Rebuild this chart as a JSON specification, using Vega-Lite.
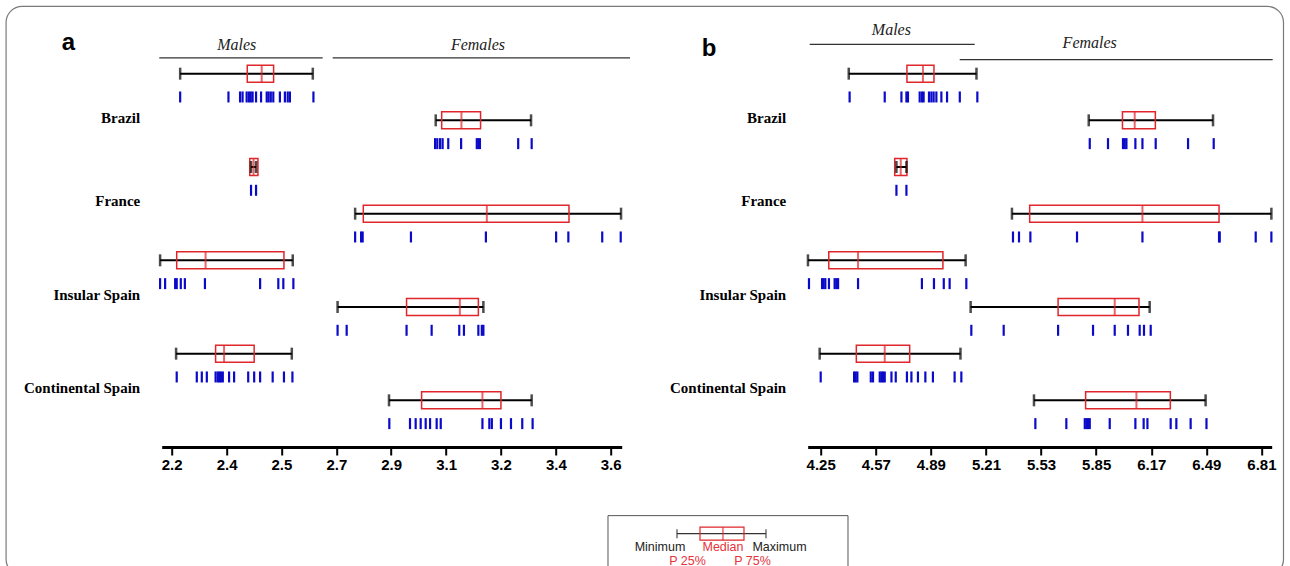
{
  "$schema": "https://vega.github.io/schema/vega-lite/v6.json",
  "padding": {"left": 4.7, "top": 5, "right": 0, "bottom": 0},
  "background": "white",
  "bounds": "flush",
  "spacing": 186,
  "config": {"view": {"stroke": null}, "axis": {"grid": false}},
  "datasets": {
    "boxA": [
      {"grp": "Brazil|Males", "min": 2.227, "q1": 2.441, "median": 2.487, "q3": 2.525, "max": 2.650},
      {"grp": "Brazil|Females", "min": 3.042, "q1": 3.061, "median": 3.124, "q3": 3.185, "max": 3.346},
      {"grp": "France|Males", "min": 2.453, "q1": 2.449, "median": 2.461, "q3": 2.475, "max": 2.469},
      {"grp": "France|Females", "min": 2.785, "q1": 2.811, "median": 3.205, "q3": 3.467, "max": 3.633},
      {"grp": "Insular Spain|Males", "min": 2.163, "q1": 2.216, "median": 2.308, "q3": 2.558, "max": 2.586},
      {"grp": "Insular Spain|Females", "min": 2.729, "q1": 2.949, "median": 3.119, "q3": 3.178, "max": 3.194},
      {"grp": "Continental Spain|Males", "min": 2.214, "q1": 2.340, "median": 2.367, "q3": 2.463, "max": 2.583},
      {"grp": "Continental Spain|Females", "min": 2.893, "q1": 2.997, "median": 3.191, "q3": 3.250, "max": 3.348}
    ],
    "boxB": [
      {"grp": "Brazil|Males", "min": 4.413, "q1": 4.751, "median": 4.844, "q3": 4.908, "max": 5.155},
      {"grp": "Brazil|Females", "min": 5.807, "q1": 6.003, "median": 6.074, "q3": 6.194, "max": 6.529},
      {"grp": "France|Males", "min": 4.690, "q1": 4.680, "median": 4.715, "q3": 4.751, "max": 4.748},
      {"grp": "France|Females", "min": 5.361, "q1": 5.464, "median": 6.119, "q3": 6.564, "max": 6.868},
      {"grp": "Insular Spain|Males", "min": 4.176, "q1": 4.297, "median": 4.467, "q3": 4.960, "max": 5.092},
      {"grp": "Insular Spain|Females", "min": 5.121, "q1": 5.629, "median": 5.958, "q3": 6.099, "max": 6.161},
      {"grp": "Continental Spain|Males", "min": 4.244, "q1": 4.457, "median": 4.622, "q3": 4.767, "max": 5.062},
      {"grp": "Continental Spain|Females", "min": 5.489, "q1": 5.789, "median": 6.084, "q3": 6.281, "max": 6.486}
    ],
    "rugA": [
      {"grp": "Brazil|Males", "v": 2.227}, {"grp": "Brazil|Males", "v": 2.381}, {"grp": "Brazil|Males", "v": 2.418}, {"grp": "Brazil|Males", "v": 2.426},
      {"grp": "Brazil|Males", "v": 2.439}, {"grp": "Brazil|Males", "v": 2.446}, {"grp": "Brazil|Males", "v": 2.452}, {"grp": "Brazil|Males", "v": 2.458},
      {"grp": "Brazil|Males", "v": 2.469}, {"grp": "Brazil|Males", "v": 2.485}, {"grp": "Brazil|Males", "v": 2.503}, {"grp": "Brazil|Males", "v": 2.509},
      {"grp": "Brazil|Males", "v": 2.516}, {"grp": "Brazil|Males", "v": 2.524}, {"grp": "Brazil|Males", "v": 2.545}, {"grp": "Brazil|Males", "v": 2.561},
      {"grp": "Brazil|Males", "v": 2.570}, {"grp": "Brazil|Males", "v": 2.577}, {"grp": "Brazil|Males", "v": 2.652},
      {"grp": "Brazil|Females", "v": 3.040}, {"grp": "Brazil|Females", "v": 3.047}, {"grp": "Brazil|Females", "v": 3.056}, {"grp": "Brazil|Females", "v": 3.064},
      {"grp": "Brazil|Females", "v": 3.082}, {"grp": "Brazil|Females", "v": 3.123}, {"grp": "Brazil|Females", "v": 3.173}, {"grp": "Brazil|Females", "v": 3.178},
      {"grp": "Brazil|Females", "v": 3.183}, {"grp": "Brazil|Females", "v": 3.305}, {"grp": "Brazil|Females", "v": 3.348},
      {"grp": "France|Males", "v": 2.453}, {"grp": "France|Males", "v": 2.469},
      {"grp": "France|Females", "v": 2.785}, {"grp": "France|Females", "v": 2.804}, {"grp": "France|Females", "v": 2.809}, {"grp": "France|Females", "v": 2.963},
      {"grp": "France|Females", "v": 3.202}, {"grp": "France|Females", "v": 3.426}, {"grp": "France|Females", "v": 3.465}, {"grp": "France|Females", "v": 3.573},
      {"grp": "France|Females", "v": 3.632},
      {"grp": "Insular Spain|Males", "v": 2.163}, {"grp": "Insular Spain|Males", "v": 2.179}, {"grp": "Insular Spain|Males", "v": 2.211}, {"grp": "Insular Spain|Males", "v": 2.216},
      {"grp": "Insular Spain|Males", "v": 2.229}, {"grp": "Insular Spain|Males", "v": 2.242}, {"grp": "Insular Spain|Males", "v": 2.306}, {"grp": "Insular Spain|Males", "v": 2.482},
      {"grp": "Insular Spain|Males", "v": 2.540}, {"grp": "Insular Spain|Males", "v": 2.556}, {"grp": "Insular Spain|Males", "v": 2.588},
      {"grp": "Insular Spain|Females", "v": 2.729}, {"grp": "Insular Spain|Females", "v": 2.758}, {"grp": "Insular Spain|Females", "v": 2.949}, {"grp": "Insular Spain|Females", "v": 3.029},
      {"grp": "Insular Spain|Females", "v": 3.117}, {"grp": "Insular Spain|Females", "v": 3.132}, {"grp": "Insular Spain|Females", "v": 3.178}, {"grp": "Insular Spain|Females", "v": 3.189},
      {"grp": "Insular Spain|Females", "v": 3.194},
      {"grp": "Continental Spain|Males", "v": 2.216}, {"grp": "Continental Spain|Males", "v": 2.280}, {"grp": "Continental Spain|Males", "v": 2.296}, {"grp": "Continental Spain|Males", "v": 2.312},
      {"grp": "Continental Spain|Males", "v": 2.340}, {"grp": "Continental Spain|Males", "v": 2.347}, {"grp": "Continental Spain|Males", "v": 2.352}, {"grp": "Continental Spain|Males", "v": 2.357},
      {"grp": "Continental Spain|Males", "v": 2.363}, {"grp": "Continental Spain|Males", "v": 2.383}, {"grp": "Continental Spain|Males", "v": 2.399}, {"grp": "Continental Spain|Males", "v": 2.444},
      {"grp": "Continental Spain|Males", "v": 2.463}, {"grp": "Continental Spain|Males", "v": 2.482}, {"grp": "Continental Spain|Males", "v": 2.522}, {"grp": "Continental Spain|Males", "v": 2.558},
      {"grp": "Continental Spain|Males", "v": 2.585},
      {"grp": "Continental Spain|Females", "v": 2.894}, {"grp": "Continental Spain|Females", "v": 2.960}, {"grp": "Continental Spain|Females", "v": 2.978}, {"grp": "Continental Spain|Females", "v": 2.994},
      {"grp": "Continental Spain|Females", "v": 3.010}, {"grp": "Continental Spain|Females", "v": 3.024}, {"grp": "Continental Spain|Females", "v": 3.045}, {"grp": "Continental Spain|Females", "v": 3.058},
      {"grp": "Continental Spain|Females", "v": 3.191}, {"grp": "Continental Spain|Females", "v": 3.213}, {"grp": "Continental Spain|Females", "v": 3.221}, {"grp": "Continental Spain|Females", "v": 3.250},
      {"grp": "Continental Spain|Females", "v": 3.282}, {"grp": "Continental Spain|Females", "v": 3.318}, {"grp": "Continental Spain|Females", "v": 3.351}
    ],
    "rugB": [
      {"grp": "Brazil|Males", "v": 4.418}, {"grp": "Brazil|Males", "v": 4.622}, {"grp": "Brazil|Males", "v": 4.719}, {"grp": "Brazil|Males", "v": 4.748},
      {"grp": "Brazil|Males", "v": 4.757}, {"grp": "Brazil|Males", "v": 4.825}, {"grp": "Brazil|Males", "v": 4.838}, {"grp": "Brazil|Males", "v": 4.848},
      {"grp": "Brazil|Males", "v": 4.879}, {"grp": "Brazil|Males", "v": 4.893}, {"grp": "Brazil|Males", "v": 4.906}, {"grp": "Brazil|Males", "v": 4.922},
      {"grp": "Brazil|Males", "v": 4.951}, {"grp": "Brazil|Males", "v": 4.984}, {"grp": "Brazil|Males", "v": 5.058}, {"grp": "Brazil|Males", "v": 5.160},
      {"grp": "Brazil|Females", "v": 5.813}, {"grp": "Brazil|Females", "v": 5.919}, {"grp": "Brazil|Females", "v": 6.006}, {"grp": "Brazil|Females", "v": 6.016},
      {"grp": "Brazil|Females", "v": 6.026}, {"grp": "Brazil|Females", "v": 6.078}, {"grp": "Brazil|Females", "v": 6.119}, {"grp": "Brazil|Females", "v": 6.196},
      {"grp": "Brazil|Females", "v": 6.384}, {"grp": "Brazil|Females", "v": 6.533},
      {"grp": "France|Males", "v": 4.690}, {"grp": "France|Males", "v": 4.748},
      {"grp": "France|Females", "v": 5.367}, {"grp": "France|Females", "v": 5.402}, {"grp": "France|Females", "v": 5.468}, {"grp": "France|Females", "v": 5.739},
      {"grp": "France|Females", "v": 6.119}, {"grp": "France|Females", "v": 6.564}, {"grp": "France|Females", "v": 6.568}, {"grp": "France|Females", "v": 6.777},
      {"grp": "France|Females", "v": 6.868},
      {"grp": "Insular Spain|Males", "v": 4.182}, {"grp": "Insular Spain|Males", "v": 4.258}, {"grp": "Insular Spain|Males", "v": 4.267}, {"grp": "Insular Spain|Males", "v": 4.277},
      {"grp": "Insular Spain|Males", "v": 4.298}, {"grp": "Insular Spain|Males", "v": 4.331}, {"grp": "Insular Spain|Males", "v": 4.341}, {"grp": "Insular Spain|Males", "v": 4.351},
      {"grp": "Insular Spain|Males", "v": 4.467}, {"grp": "Insular Spain|Males", "v": 4.838}, {"grp": "Insular Spain|Males", "v": 4.908}, {"grp": "Insular Spain|Males", "v": 4.965},
      {"grp": "Insular Spain|Males", "v": 4.999}, {"grp": "Insular Spain|Males", "v": 5.096},
      {"grp": "Insular Spain|Females", "v": 5.125}, {"grp": "Insular Spain|Females", "v": 5.313}, {"grp": "Insular Spain|Females", "v": 5.629}, {"grp": "Insular Spain|Females", "v": 5.832},
      {"grp": "Insular Spain|Females", "v": 5.958}, {"grp": "Insular Spain|Females", "v": 6.035}, {"grp": "Insular Spain|Females", "v": 6.103}, {"grp": "Insular Spain|Females", "v": 6.128},
      {"grp": "Insular Spain|Females", "v": 6.167},
      {"grp": "Continental Spain|Males", "v": 4.250}, {"grp": "Continental Spain|Males", "v": 4.444}, {"grp": "Continental Spain|Males", "v": 4.453}, {"grp": "Continental Spain|Males", "v": 4.463},
      {"grp": "Continental Spain|Males", "v": 4.541}, {"grp": "Continental Spain|Males", "v": 4.554}, {"grp": "Continental Spain|Males", "v": 4.593}, {"grp": "Continental Spain|Males", "v": 4.603},
      {"grp": "Continental Spain|Males", "v": 4.612}, {"grp": "Continental Spain|Males", "v": 4.622}, {"grp": "Continental Spain|Males", "v": 4.661}, {"grp": "Continental Spain|Males", "v": 4.686},
      {"grp": "Continental Spain|Males", "v": 4.751}, {"grp": "Continental Spain|Males", "v": 4.777}, {"grp": "Continental Spain|Males", "v": 4.815}, {"grp": "Continental Spain|Males", "v": 4.858},
      {"grp": "Continental Spain|Males", "v": 4.902}, {"grp": "Continental Spain|Males", "v": 5.028}, {"grp": "Continental Spain|Males", "v": 5.067},
      {"grp": "Continental Spain|Females", "v": 5.497}, {"grp": "Continental Spain|Females", "v": 5.677}, {"grp": "Continental Spain|Females", "v": 5.784}, {"grp": "Continental Spain|Females", "v": 5.794},
      {"grp": "Continental Spain|Females", "v": 5.803}, {"grp": "Continental Spain|Females", "v": 5.813}, {"grp": "Continental Spain|Females", "v": 5.929}, {"grp": "Continental Spain|Females", "v": 6.078},
      {"grp": "Continental Spain|Females", "v": 6.126}, {"grp": "Continental Spain|Females", "v": 6.148}, {"grp": "Continental Spain|Females", "v": 6.283}, {"grp": "Continental Spain|Females", "v": 6.316},
      {"grp": "Continental Spain|Females", "v": 6.399}, {"grp": "Continental Spain|Females", "v": 6.491}
    ],
    "hdrA": [
      {"sex": "Males", "from": 2.1604, "to": 2.6815, "mid": 2.4073},
      {"sex": "Females", "from": 2.7134, "to": 3.6616, "mid": 3.1768}
    ],
    "hdrB": [
      {"sex": "Males", "from": 4.1861, "to": 5.1446, "mid": 4.6607},
      {"sex": "Females", "from": 5.0575, "to": 6.8756, "mid": 5.8126}
    ],
    "frame": [{"from": 1.6718, "to": 5.7457}],
    "key": [{"left": 3.5914, "right": 4.3568, "min": 3.8114, "q1": 3.8848, "median": 3.9581, "q3": 4.0251, "max": 4.0953}],
    "keyText": [
      {"label": "Minimum", "at": 3.7572, "line": 1, "kind": "range"},
      {"label": "Median", "at": 3.9581, "line": 1, "kind": "quartile"},
      {"label": "Maximum", "at": 4.1383, "line": 1, "kind": "range"},
      {"label": "P 25%", "at": 3.8449, "line": 2, "kind": "quartile"},
      {"label": "P 75%", "at": 4.0522, "line": 2, "kind": "quartile"}
    ]
  },
  "hconcat": [
    {
      "width": 460,
      "height": 420,
      "title": {"text": "a", "anchor": "start", "frame": "group", "offset": 0, "baseline": "middle", "dx": -100, "dy": 61, "fontSize": 24, "font": "Liberation Sans", "fontWeight": "bold", "color": "black"},
      "encoding": {
        "y": {
          "field": "grp", "type": "nominal",
          "scale": {"type": "point", "padding": 1.0455, "domain": ["Brazil|Males", "Brazil|Females", "France|Males", "France|Females", "Insular Spain|Males", "Insular Spain|Females", "Continental Spain|Males", "Continental Spain|Females"]},
          "axis": {"title": null, "domain": false, "ticks": false, "labelPadding": 22, "labelLimit": 300,
            "labelExpr": "indexof(datum.value, '|Females') > 0 ? split(datum.value, '|')[0] : ''",
            "labelFont": "Liberation Serif", "labelFontWeight": "bold", "labelFontSize": 15, "labelColor": "black",
            "labelOffset": {"condition": {"test": "datum.value === 'Brazil|Females'", "value": -3}, "value": -12.7}}
        }
      },
      "layer": [
        {
          "data": {"name": "frame"},
          "mark": {"type": "bar", "orient": "horizontal", "size": 569, "yOffset": 217.2, "fill": "transparent", "stroke": "#7a7a7a", "strokeWidth": 1.2, "cornerRadius": 16},
          "encoding": {
            "x": {"field": "from", "type": "quantitative", "scale": {"domain": [2.1681, 3.6351], "nice": false, "zero": false}},
            "x2": {"field": "to"},
            "y": {"datum": "Brazil|Males", "type": "nominal"}
          }
        },
        {
          "data": {"name": "hdrA"},
          "mark": {"type": "rule", "yOffset": -15.8, "color": "#333", "strokeWidth": 1.2},
          "encoding": {
            "x": {"field": "from", "type": "quantitative", "scale": {"domain": [2.1681, 3.6351], "nice": false, "zero": false}},
            "x2": {"field": "to"},
            "y": {"datum": "Brazil|Males", "type": "nominal"}
          }
        },
        {
          "data": {"name": "hdrA"},
          "mark": {"type": "text", "yOffset": -28.3, "font": "Liberation Serif", "fontStyle": "italic", "fontSize": 16, "color": "#222"},
          "encoding": {
            "x": {"field": "mid", "type": "quantitative", "scale": {"domain": [2.1681, 3.6351], "nice": false, "zero": false}},
            "y": {"datum": "Brazil|Males", "type": "nominal"},
            "text": {"field": "sex"}
          }
        },
        {
          "data": {"name": "boxA"},
          "mark": {"type": "rule", "color": "#000", "strokeWidth": 2},
          "encoding": {
            "x": {"field": "min", "type": "quantitative", "scale": {"domain": [2.1681, 3.6351], "nice": false, "zero": false},
              "axis": {"title": null, "values": [2.2, 2.375, 2.55, 2.725, 2.9, 3.075, 3.25, 3.425, 3.6],
                "labelExpr": "['2.2','2.4','2.5','2.7','2.9','3.1','3.2','3.4','3.6'][round(datum.index * 8)]",
                "domainColor": "black", "domainWidth": 3, "tickColor": "black", "tickWidth": 2, "tickSize": 8,
                "labelFont": "Liberation Sans", "labelFontWeight": "bold", "labelFontSize": 15, "labelColor": "black",
                "labelPadding": 3, "labelFlush": false, "labelOverlap": false, "grid": false}},
            "x2": {"field": "max"}
          }
        },
        {
          "data": {"name": "boxA"},
          "mark": {"type": "bar", "orient": "horizontal", "size": 17, "fill": "transparent", "stroke": "#e0262b", "strokeWidth": 1.5},
          "encoding": {
            "x": {"field": "q1", "type": "quantitative", "scale": {"domain": [2.1681, 3.6351], "nice": false, "zero": false}},
            "x2": {"field": "q3"}
          }
        },
        {
          "data": {"name": "boxA"},
          "mark": {"type": "tick", "orient": "vertical", "size": 17, "thickness": 2, "color": "#e0262b"},
          "encoding": {"x": {"field": "median", "type": "quantitative", "scale": {"domain": [2.1681, 3.6351], "nice": false, "zero": false}}}
        },
        {
          "data": {"name": "boxA"},
          "mark": {"type": "tick", "orient": "vertical", "size": 12, "thickness": 2.5, "color": "#000"},
          "encoding": {"x": {"field": "min", "type": "quantitative", "scale": {"domain": [2.1681, 3.6351], "nice": false, "zero": false}}}
        },
        {
          "data": {"name": "boxA"},
          "mark": {"type": "tick", "orient": "vertical", "size": 12, "thickness": 2.5, "color": "#000"},
          "encoding": {"x": {"field": "max", "type": "quantitative", "scale": {"domain": [2.1681, 3.6351], "nice": false, "zero": false}}}
        },
        {
          "data": {"name": "rugA"},
          "mark": {"type": "tick", "orient": "vertical", "size": 11, "thickness": 2.2, "color": "#0a0ac8", "opacity": 1, "yOffset": 23.3},
          "encoding": {"x": {"field": "v", "type": "quantitative", "scale": {"domain": [2.1681, 3.6351], "nice": false, "zero": false}}}
        },
        {
          "data": {"name": "key"},
          "mark": {"type": "bar", "orient": "horizontal", "size": 68, "yOffset": 149.3, "fill": "transparent", "stroke": "#555", "strokeWidth": 1},
          "encoding": {
            "x": {"field": "left", "type": "quantitative", "scale": {"domain": [2.1681, 3.6351], "nice": false, "zero": false}},
            "x2": {"field": "right"},
            "y": {"datum": "Continental Spain|Females", "type": "nominal"}
          }
        },
        {
          "data": {"name": "key"},
          "mark": {"type": "rule", "yOffset": 133.3, "color": "#333", "strokeWidth": 1.2},
          "encoding": {
            "x": {"field": "min", "type": "quantitative", "scale": {"domain": [2.1681, 3.6351], "nice": false, "zero": false}},
            "x2": {"field": "max"},
            "y": {"datum": "Continental Spain|Females", "type": "nominal"}
          }
        },
        {
          "data": {"name": "key"},
          "mark": {"type": "bar", "orient": "horizontal", "size": 13, "yOffset": 133.3, "fill": "transparent", "stroke": "#e0262b", "strokeWidth": 1.2},
          "encoding": {
            "x": {"field": "q1", "type": "quantitative", "scale": {"domain": [2.1681, 3.6351], "nice": false, "zero": false}},
            "x2": {"field": "q3"},
            "y": {"datum": "Continental Spain|Females", "type": "nominal"}
          }
        },
        {
          "data": {"name": "key"},
          "mark": {"type": "tick", "orient": "vertical", "size": 13, "thickness": 1.5, "color": "#e0262b", "yOffset": 133.3},
          "encoding": {
            "x": {"field": "median", "type": "quantitative", "scale": {"domain": [2.1681, 3.6351], "nice": false, "zero": false}},
            "y": {"datum": "Continental Spain|Females", "type": "nominal"}
          }
        },
        {
          "data": {"name": "key"},
          "mark": {"type": "tick", "orient": "vertical", "size": 9, "thickness": 1.5, "color": "#333", "yOffset": 133.3},
          "encoding": {
            "x": {"field": "min", "type": "quantitative", "scale": {"domain": [2.1681, 3.6351], "nice": false, "zero": false}},
            "y": {"datum": "Continental Spain|Females", "type": "nominal"}
          }
        },
        {
          "data": {"name": "key"},
          "mark": {"type": "tick", "orient": "vertical", "size": 9, "thickness": 1.5, "color": "#333", "yOffset": 133.3},
          "encoding": {
            "x": {"field": "max", "type": "quantitative", "scale": {"domain": [2.1681, 3.6351], "nice": false, "zero": false}},
            "y": {"datum": "Continental Spain|Females", "type": "nominal"}
          }
        },
        {
          "data": {"name": "keyText"},
          "transform": [{"filter": "datum.line === 1"}],
          "mark": {"type": "text", "yOffset": 147, "font": "Liberation Sans", "fontSize": 12.5},
          "encoding": {
            "x": {"field": "at", "type": "quantitative", "scale": {"domain": [2.1681, 3.6351], "nice": false, "zero": false}},
            "y": {"datum": "Continental Spain|Females", "type": "nominal"},
            "text": {"field": "label"},
            "color": {"field": "kind", "type": "nominal", "scale": {"domain": ["range", "quartile"], "range": ["#222222", "#e8323a"]}, "legend": null}
          }
        },
        {
          "data": {"name": "keyText"},
          "transform": [{"filter": "datum.line === 2"}],
          "mark": {"type": "text", "yOffset": 160.5, "font": "Liberation Sans", "fontSize": 12.5},
          "encoding": {
            "x": {"field": "at", "type": "quantitative", "scale": {"domain": [2.1681, 3.6351], "nice": false, "zero": false}},
            "y": {"datum": "Continental Spain|Females", "type": "nominal"},
            "text": {"field": "label"},
            "color": {"field": "kind", "type": "nominal", "scale": {"domain": ["range", "quartile"], "range": ["#222222", "#e8323a"]}, "legend": null}
          }
        }
      ]
    },
    {
      "width": 464,
      "height": 420,
      "title": {"text": "b", "anchor": "start", "frame": "group", "offset": 0, "baseline": "middle", "dx": -106, "dy": 51, "fontSize": 24, "font": "Liberation Sans", "fontWeight": "bold", "color": "black"},
      "encoding": {
        "y": {
          "field": "grp", "type": "nominal",
          "scale": {"type": "point", "padding": 1.0455, "domain": ["Brazil|Males", "Brazil|Females", "France|Males", "France|Females", "Insular Spain|Males", "Insular Spain|Females", "Continental Spain|Males", "Continental Spain|Females"]},
          "axis": {"title": null, "domain": false, "ticks": false, "labelPadding": 22, "labelLimit": 300,
            "labelExpr": "indexof(datum.value, '|Females') > 0 ? split(datum.value, '|')[0] : ''",
            "labelFont": "Liberation Serif", "labelFontWeight": "bold", "labelFontSize": 15, "labelColor": "black",
            "labelOffset": {"condition": {"test": "datum.value === 'Brazil|Females'", "value": -3}, "value": -12.7}}
        }
      },
      "layer": [
        {
          "data": {"name": "hdrB"},
          "transform": [{"filter": "datum.sex === 'Males'"}],
          "mark": {"type": "rule", "yOffset": -29.3, "color": "#333", "strokeWidth": 1.2},
          "encoding": {
            "x": {"field": "from", "type": "quantitative", "scale": {"domain": [4.1745, 6.8698], "nice": false, "zero": false}},
            "x2": {"field": "to"},
            "y": {"datum": "Brazil|Males", "type": "nominal"}
          }
        },
        {
          "data": {"name": "hdrB"},
          "transform": [{"filter": "datum.sex === 'Males'"}],
          "mark": {"type": "text", "yOffset": -43.3, "font": "Liberation Serif", "fontStyle": "italic", "fontSize": 16, "color": "#222"},
          "encoding": {
            "x": {"field": "mid", "type": "quantitative", "scale": {"domain": [4.1745, 6.8698], "nice": false, "zero": false}},
            "y": {"datum": "Brazil|Males", "type": "nominal"},
            "text": {"field": "sex"}
          }
        },
        {
          "data": {"name": "hdrB"},
          "transform": [{"filter": "datum.sex === 'Females'"}],
          "mark": {"type": "rule", "yOffset": -14, "color": "#333", "strokeWidth": 1.2},
          "encoding": {
            "x": {"field": "from", "type": "quantitative", "scale": {"domain": [4.1745, 6.8698], "nice": false, "zero": false}},
            "x2": {"field": "to"},
            "y": {"datum": "Brazil|Males", "type": "nominal"}
          }
        },
        {
          "data": {"name": "hdrB"},
          "transform": [{"filter": "datum.sex === 'Females'"}],
          "mark": {"type": "text", "yOffset": -30.3, "font": "Liberation Serif", "fontStyle": "italic", "fontSize": 16, "color": "#222"},
          "encoding": {
            "x": {"field": "mid", "type": "quantitative", "scale": {"domain": [4.1745, 6.8698], "nice": false, "zero": false}},
            "y": {"datum": "Brazil|Males", "type": "nominal"},
            "text": {"field": "sex"}
          }
        },
        {
          "data": {"name": "boxB"},
          "mark": {"type": "rule", "color": "#000", "strokeWidth": 2},
          "encoding": {
            "x": {"field": "min", "type": "quantitative", "scale": {"domain": [4.1745, 6.8698], "nice": false, "zero": false},
              "axis": {"title": null, "values": [4.25, 4.57, 4.89, 5.21, 5.53, 5.85, 6.17, 6.49, 6.81], "format": ".2f",
                "domainColor": "black", "domainWidth": 3, "tickColor": "black", "tickWidth": 2, "tickSize": 8,
                "labelFont": "Liberation Sans", "labelFontWeight": "bold", "labelFontSize": 15, "labelColor": "black",
                "labelPadding": 3, "labelFlush": false, "labelOverlap": false, "grid": false}},
            "x2": {"field": "max"}
          }
        },
        {
          "data": {"name": "boxB"},
          "mark": {"type": "bar", "orient": "horizontal", "size": 17, "fill": "transparent", "stroke": "#e0262b", "strokeWidth": 1.5},
          "encoding": {
            "x": {"field": "q1", "type": "quantitative", "scale": {"domain": [4.1745, 6.8698], "nice": false, "zero": false}},
            "x2": {"field": "q3"}
          }
        },
        {
          "data": {"name": "boxB"},
          "mark": {"type": "tick", "orient": "vertical", "size": 17, "thickness": 2, "color": "#e0262b"},
          "encoding": {"x": {"field": "median", "type": "quantitative", "scale": {"domain": [4.1745, 6.8698], "nice": false, "zero": false}}}
        },
        {
          "data": {"name": "boxB"},
          "mark": {"type": "tick", "orient": "vertical", "size": 12, "thickness": 2.5, "color": "#000"},
          "encoding": {"x": {"field": "min", "type": "quantitative", "scale": {"domain": [4.1745, 6.8698], "nice": false, "zero": false}}}
        },
        {
          "data": {"name": "boxB"},
          "mark": {"type": "tick", "orient": "vertical", "size": 12, "thickness": 2.5, "color": "#000"},
          "encoding": {"x": {"field": "max", "type": "quantitative", "scale": {"domain": [4.1745, 6.8698], "nice": false, "zero": false}}}
        },
        {
          "data": {"name": "rugB"},
          "mark": {"type": "tick", "orient": "vertical", "size": 11, "thickness": 2.2, "color": "#0a0ac8", "opacity": 1, "yOffset": 23.3},
          "encoding": {"x": {"field": "v", "type": "quantitative", "scale": {"domain": [4.1745, 6.8698], "nice": false, "zero": false}}}
        }
      ]
    }
  ]
}
